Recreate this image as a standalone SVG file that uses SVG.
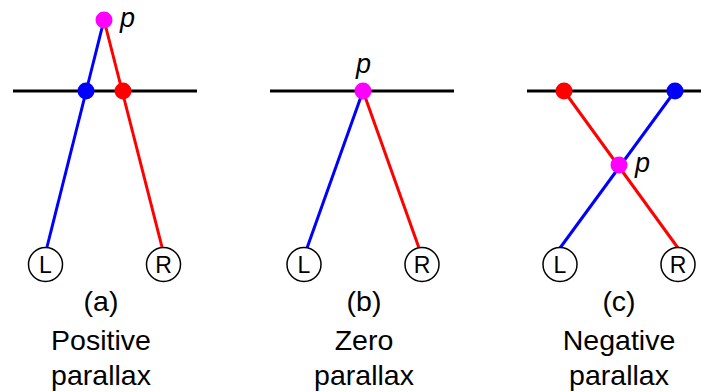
<svg xmlns="http://www.w3.org/2000/svg" width="701" height="392" viewBox="0 0 701 392">
<style>
.base{stroke:#000;stroke-width:3;fill:none}
.bl{stroke:#0000ff;stroke-width:3;fill:none}
.rd{stroke:#ff0000;stroke-width:3;fill:none}
.eye{fill:#fff;stroke:#000;stroke-width:1.5}
.eyet{font-family:"Liberation Sans",Arial,sans-serif;font-size:23px;text-anchor:middle;fill:#000}
.lab{font-family:"Liberation Sans",Arial,sans-serif;font-size:28.5px;text-anchor:middle;fill:#000}
.pt{font-family:"Liberation Sans",Arial,sans-serif;font-size:27px;font-style:italic;fill:#000}
</style>
<rect width="701" height="392" fill="#fff"/>
<g id="connectors">
<line class="base" x1="13" y1="91" x2="197" y2="91"/>
<line class="bl" x1="47" y1="247" x2="104" y2="20"/>
<line class="rd" x1="162" y1="247" x2="104" y2="20"/>
<line class="base" x1="270" y1="91" x2="454" y2="91"/>
<line class="bl" x1="307" y1="248" x2="363" y2="91"/>
<line class="rd" x1="419" y1="248" x2="363" y2="91"/>
<line class="base" x1="527" y1="91" x2="712" y2="91"/>
<line class="rd" x1="564" y1="91" x2="678" y2="248"/>
<line class="bl" x1="675" y1="91" x2="560" y2="248"/>
</g>
<g id="panel-a">
<circle cx="104" cy="20" r="8.5" fill="#ff00ff"/>
<circle cx="86" cy="91" r="8.5" fill="#0000ff"/>
<circle cx="123" cy="91" r="8.5" fill="#ff0000"/>
<text class="pt" x="120" y="27">p</text>
<g id="eye-a-L"><circle class="eye" cx="45.5" cy="264.5" r="17"/><text class="eyet" x="45.5" y="273">L</text></g>
<g id="eye-a-R"><circle class="eye" cx="163.5" cy="264.5" r="17"/><text class="eyet" x="163.5" y="273">R</text></g>
<text class="lab" x="101" y="311">(a)</text>
<text class="lab" x="101" y="350">Positive</text>
<text class="lab" x="101" y="385">parallax</text>
</g>
<g id="panel-b">
<circle cx="363" cy="91" r="8.5" fill="#ff00ff"/>
<text class="pt" x="356" y="73">p</text>
<g id="eye-b-L"><circle class="eye" cx="304" cy="264.5" r="17"/><text class="eyet" x="304" y="273">L</text></g>
<g id="eye-b-R"><circle class="eye" cx="422" cy="264.5" r="17"/><text class="eyet" x="422" y="273">R</text></g>
<text class="lab" x="364" y="311">(b)</text>
<text class="lab" x="364" y="350">Zero</text>
<text class="lab" x="364" y="385">parallax</text>
</g>
<g id="panel-c">
<circle cx="564" cy="91" r="8.5" fill="#ff0000"/>
<circle cx="675" cy="91" r="8.5" fill="#0000ff"/>
<circle cx="619" cy="165" r="8.5" fill="#ff00ff"/>
<text class="pt" x="635" y="172">p</text>
<g id="eye-c-L"><circle class="eye" cx="560" cy="264.5" r="17"/><text class="eyet" x="560" y="273">L</text></g>
<g id="eye-c-R"><circle class="eye" cx="678" cy="264.5" r="17"/><text class="eyet" x="678" y="273">R</text></g>
<text class="lab" x="619" y="311">(c)</text>
<text class="lab" x="619" y="350">Negative</text>
<text class="lab" x="619" y="385">parallax</text>
</g>
</svg>
